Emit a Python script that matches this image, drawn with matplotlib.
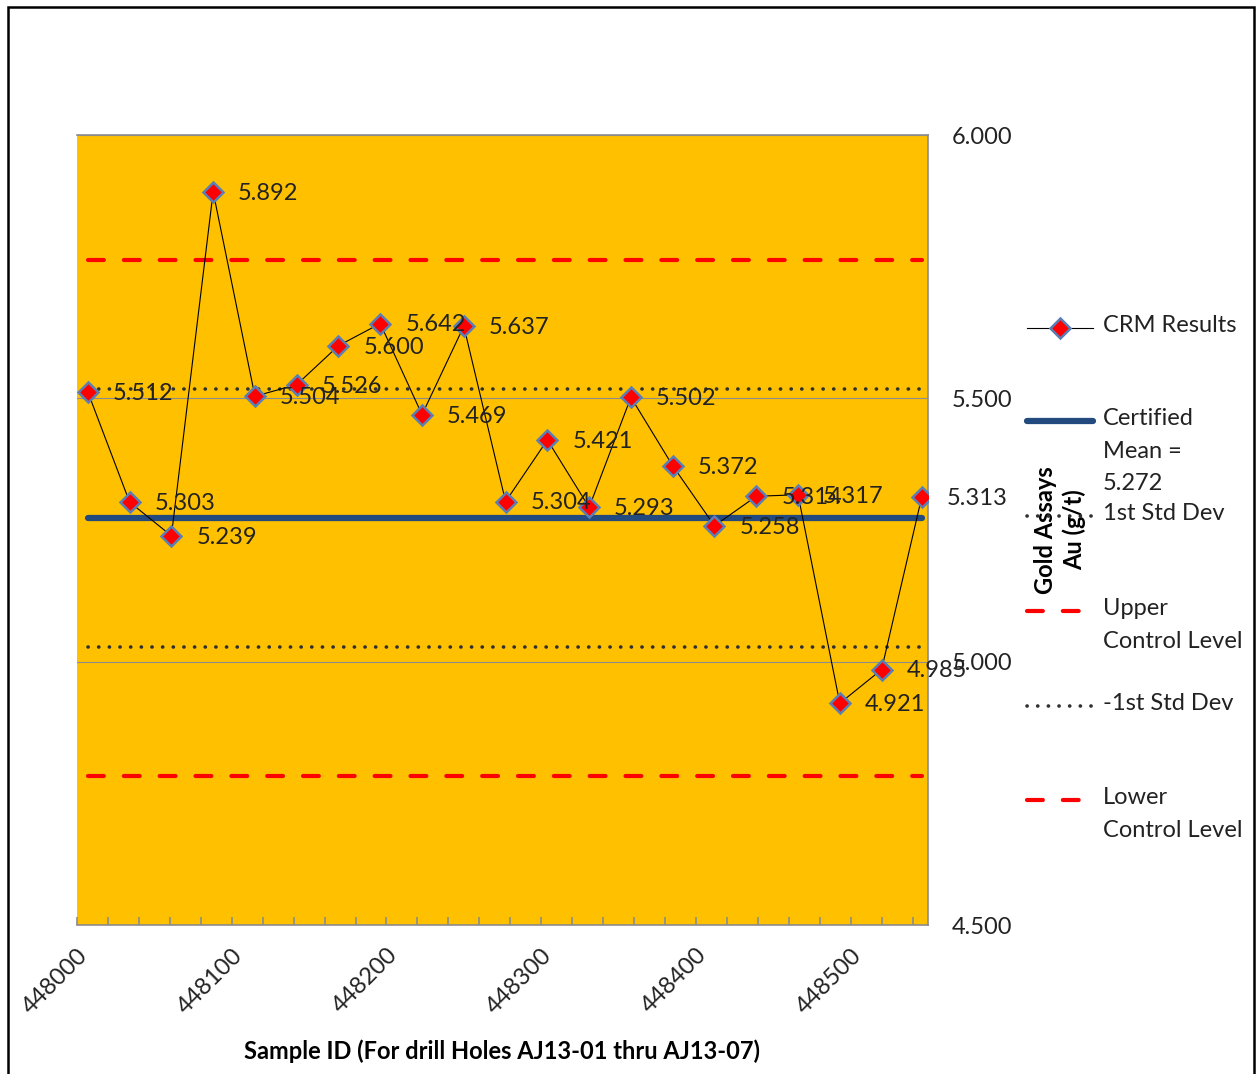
import matplotlib.pyplot as plt
from matplotlib.lines import Line2D
from matplotlib.patches import Rectangle
from matplotlib.ticker import MultipleLocator, FormatStrFormatter

plt.rcParams['font.family'] = ['Lato', 'DejaVu Sans']

# sample ids and CRM assay results
sample_id = [448007, 448034, 448061, 448088, 448115, 448142, 448169, 448196,
             448223, 448250, 448277, 448304, 448331, 448358, 448385, 448412,
             448439, 448466, 448493, 448520, 448546]
au_gpt = [5.512, 5.303, 5.239, 5.892, 5.504, 5.526, 5.600, 5.642, 5.469, 5.637,
          5.304, 5.421, 5.293, 5.502, 5.372, 5.258, 5.314, 5.317, 4.921, 4.985,
          5.313]

cert_mean = 5.272
std_dev = 0.245
plus_1sd = cert_mean + std_dev
minus_1sd = cert_mean - std_dev
upper_cl = cert_mean + 2 * std_dev
lower_cl = cert_mean - 2 * std_dev

W, H = 1258, 1074
fig = plt.figure(figsize=(W / 100, H / 100), dpi=100)
ax = fig.add_axes([77 / W, 1 - 925 / H, (928 - 77) / W, (925 - 135) / H])
ax.set_facecolor('#FFC000')

crm_style = dict(color='black', lw=0.8, marker='D', markersize=10,
                 markerfacecolor='#FF0000', markeredgecolor='#5B7FB4', markeredgewidth=1.8)
mean_style = dict(color='#234A7E', lw=4.5, solid_capstyle='round')
sd_style = dict(color='#303030', lw=2.6, dashes=(0.05, 2.9), dash_capstyle='round')
cl_style = dict(color='#FF0000', lw=3.0, dashes=(3.8, 4.8), dash_capstyle='round')

x0, x1 = sample_id[0], sample_id[-1]
ax.plot([x0, x1], [upper_cl, upper_cl], **cl_style, zorder=2)
ax.plot([x0, x1], [lower_cl, lower_cl], **cl_style, zorder=2)
ax.plot([x0, x1], [plus_1sd, plus_1sd], **sd_style, zorder=2)
ax.plot([x0, x1], [minus_1sd, minus_1sd], **sd_style, zorder=2)
ax.plot([x0, x1], [cert_mean, cert_mean], **mean_style, zorder=3)
ax.plot(sample_id, au_gpt, **crm_style, zorder=4)

for x, y in zip(sample_id, au_gpt):
    ax.annotate('%.3f' % y, (x, y), xytext=(18, -1), textcoords='offset points',
                ha='left', va='center', fontsize=17, color='#222222',
                annotation_clip=False, zorder=5)

ax.set_xlim(448000, 448550)
ax.set_ylim(4.5, 6.0)
ax.yaxis.set_major_locator(MultipleLocator(0.5))
ax.yaxis.set_major_formatter(FormatStrFormatter('%.3f'))
ax.yaxis.tick_right()
ax.yaxis.set_label_position('right')
ax.xaxis.set_major_locator(MultipleLocator(100))
ax.xaxis.set_minor_locator(MultipleLocator(20))
ax.grid(axis='y', color='#8C8C8C', lw=0.8)
ax.set_axisbelow(True)

for s in ['top', 'right', 'bottom']:
    ax.spines[s].set_color('#8C8C8C')
    ax.spines[s].set_linewidth(1.2)
ax.spines['left'].set_visible(False)

ax.tick_params(axis='y', length=0, pad=17, labelsize=17, labelcolor='#222222')
ax.tick_params(axis='x', which='both', direction='in', length=6, color='#8C8C8C',
               width=1.2, labelsize=17, labelcolor='#222222', pad=14)
for lab in ax.get_xticklabels():
    lab.set_rotation(45)
    lab.set_ha('right')
    lab.set_rotation_mode('anchor')

ax.set_xlabel('Sample ID (For drill Holes AJ13-01 thru AJ13-07)',
              fontsize=17, fontweight='bold', labelpad=16)
ax.set_ylabel('Gold Assays\nAu (g/t)', fontsize=17, fontweight='bold',
              labelpad=16, linespacing=1.25)

# legend drawn by hand so the handles sit on the first text line
entries = [
    (crm_style, 'CRM Results', 328),
    (mean_style, 'Certified\nMean =\n5.272', 421),
    (sd_style, '1st Std Dev', 516),
    (cl_style, 'Upper\nControl Level', 611),
    (sd_style, '-1st Std Dev', 706),
    (cl_style, 'Lower\nControl Level', 800),
]
for style, label, py in entries:
    st = dict(style)
    if 'marker' in st:
        ln = Line2D([1027 / W, 1060 / W, 1093 / W], [1 - py / H] * 3,
                    markevery=[1], transform=fig.transFigure, **st)
    else:
        ln = Line2D([1027 / W, 1093 / W], [1 - py / H] * 2,
                    transform=fig.transFigure, **st)
    fig.add_artist(ln)
    fig.text(1103 / W, 1 - py / H + 13 / H, label, ha='left', va='top',
             fontsize=17, color='#222222', linespacing=1.68)

fig.add_artist(Rectangle((8 / W, -0.05), (1254 - 8) / W, 1.05 - 7 / H,
                         transform=fig.transFigure, fill=False,
                         edgecolor='black', lw=1.8))

fig.savefig('out.png', dpi=100)
